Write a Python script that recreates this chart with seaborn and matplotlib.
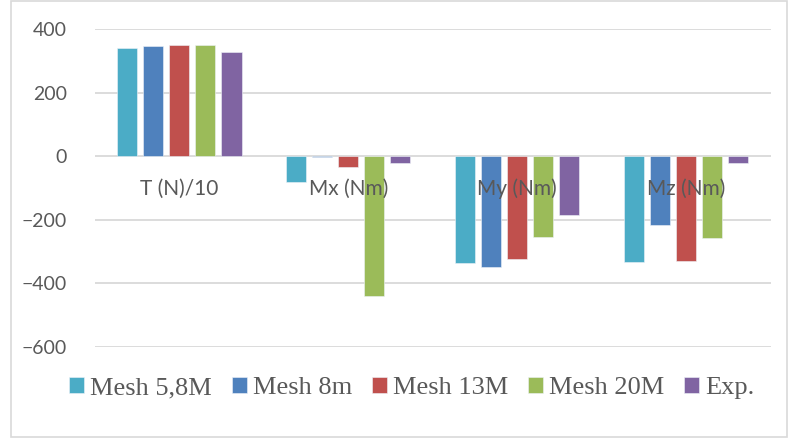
"""
Grouped bar chart: thrust and moments for several mesh sizes vs experiment.
"""

import numpy as np
import pandas as pd

import matplotlib

matplotlib.use("Agg")
import matplotlib.pyplot as plt
import seaborn as sns
from matplotlib.patches import Rectangle

# --- data ---
categories = ["T (N)/10", "Mx (Nm)", "My (Nm)", "Mz (Nm)"]
series = ["Mesh 5,8M", "Mesh 8m", "Mesh 13M", "Mesh 20M", "Exp."]
mesh_58 = [340, -82, -335, -334]
mesh_8 = [346, -3, -350, -218]
mesh_13 = [350, -35, -323, -331]
mesh_20 = [349, -439, -254, -256]
exp_vals = [329, -21, -184, -21]
y_ticks = [-600, -400, -200, 0, 200, 400]

colors = ["#4BACC6", "#4F81BD", "#C0504D", "#9BBB59", "#8064A2"]
TEXT_GREY = "#595959"
GRID_GREY = "#D9D9D9"

rows = []
for name, vals in zip(series, [mesh_58, mesh_8, mesh_13, mesh_20, exp_vals]):
    for cat, v in zip(categories, vals):
        rows.append({"category": cat, "mesh": name, "value": v})
df = pd.DataFrame(rows)

sns.set_style("white")
plt.rcParams["font.family"] = ["Lato", "DejaVu Sans"]

fig = plt.figure(figsize=(7.88, 4.38), dpi=100)
ax = fig.add_axes([95 / 788, 1 - 346.7 / 438, (770.7 - 95) / 788, (346.7 - 29.3) / 438])

sns.barplot(
    data=df, x="category", y="value", hue="mesh", order=categories,
    hue_order=series, palette=colors, saturation=1, width=0.77, gap=0.23,
    edgecolor="#EEF3F8", linewidth=0.4, ax=ax,
)

ax.set_xlim(-0.5, 3.5)
ax.set_ylim(-600, 400)
ax.set_yticks(y_ticks)
ax.set_xlabel("")
ax.set_ylabel("")
ax.yaxis.grid(True, color=GRID_GREY, linewidth=1.3)
ax.set_axisbelow(True)
# category labels are drawn over the bars
ax.xaxis.set_zorder(5)
for side in ["top", "right", "left"]:
    ax.spines[side].set_visible(False)
# category labels sit just under the zero line, like Excel's "next to axis"
ax.spines["bottom"].set_position(("data", 0))
ax.spines["bottom"].set_visible(False)
ax.tick_params(axis="x", length=0, pad=16, labelsize=15, labelcolor=TEXT_GREY)
ax.tick_params(axis="y", length=0, pad=20, labelsize=14, labelcolor=TEXT_GREY)

handles, labels = ax.get_legend_handles_labels()
ax.get_legend().remove()
fig.legend(
    handles, labels, loc="center", bbox_to_anchor=(0.523, 0.114), ncol=5,
    frameon=False, handlelength=0.55, handleheight=0.55, handletextpad=0.25,
    columnspacing=0.75, prop={"family": "Liberation Serif", "size": 19},
    labelcolor=TEXT_GREY,
)

fig.patches.append(
    Rectangle((11 / 788, 1 / 438), 776 / 788, 436 / 438, transform=fig.transFigure,
              fill=False, edgecolor=GRID_GREY, linewidth=1.2)
)

fig.savefig("out.png", dpi=100)
plt.close(fig)
